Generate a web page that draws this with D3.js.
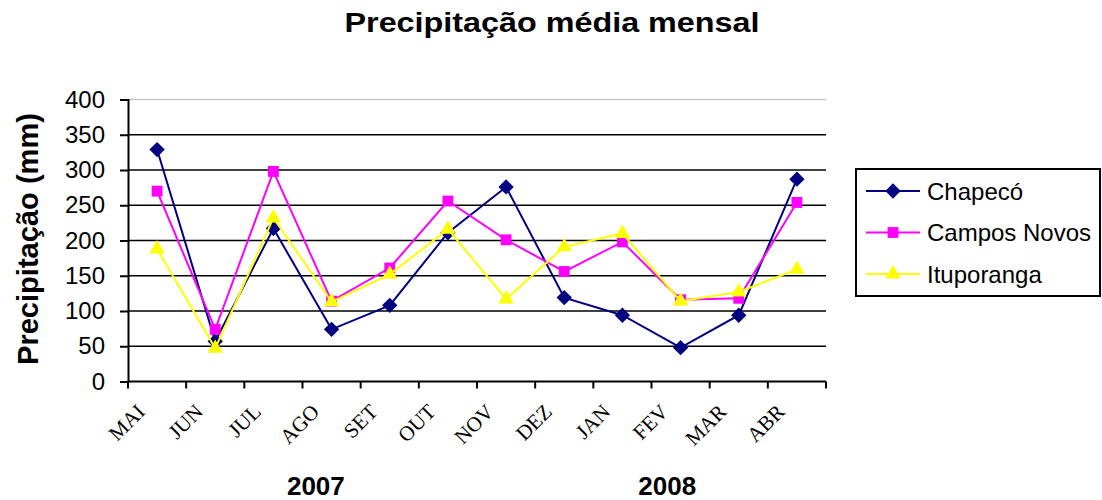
<!DOCTYPE html>
<html>
<head>
<meta charset="utf-8">
<title>Precipitação média mensal</title>
<style type="text/css">
    body{ margin:0; background:#fff; }
    svg text{ font-family:"Liberation Sans", Arial, sans-serif; fill:#000; }
    .xlab{ font-family:"Liberation Serif", "Times New Roman", serif; }
</style>
</head>
<body>
<div id="chart"></div>

<script src="https://cdn.jsdelivr.net/npm/d3@7/dist/d3.min.js"></script>
<script type="text/javascript">

    // months (May 2007 - Apr 2008)
    var months = ['MAI','JUN','JUL','AGO','SET','OUT','NOV','DEZ','JAN','FEV','MAR','ABR'];
    var years = ['2007', '2008'];
    var yTicks = [0, 50, 100, 150, 200, 250, 300, 350, 400];

    // monthly rainfall (mm)
    var chapeco     = [329, 57, 217, 74, 108, 211, 276, 119, 94, 48, 94, 287];
    var camposNovos = [270, 74, 298, 114, 161, 256, 201, 156, 198, 116, 118, 254];
    var ituporanga  = [188, 47, 232, 113, 152, 216, 117, 191, 210, 114, 127, 159];

    var seriesNames = ['Chapecó', 'Campos Novos', 'Ituporanga'];
    var seriesColors = ['#000080', '#FF00FF', '#FFFF00'];
    var seriesShapes = [d3.symbolDiamond2, d3.symbolSquare2, d3.symbolTriangle2];

    var series = [chapeco, camposNovos, ituporanga].map(function(v, i){
        return { name: seriesNames[i], color: seriesColors[i], shape: seriesShapes[i], values: v };
    });

    var width = 1102, height = 500;
    var plot = { left: 128, right: 826, top: 99.5, bottom: 381.5 };

    var svg = d3.select('#chart').append('svg')
        .attr('width', width)
        .attr('height', height);

/*-----------------------------------------------------------------------
    scales
-----------------------------------------------------------------------*/
    var x = d3.scaleBand().domain(months).range([plot.left, plot.right]).padding(0);
    var y = d3.scaleLinear().domain([0, 400]).range([plot.bottom, plot.top]);
    var cx = function(m){ return x(m) + x.bandwidth() / 2; };
    var markSize = function(shape){ return shape === d3.symbolTriangle2 ? 170 : 150; };

    // horizontal gridlines
    svg.append('g').selectAll('line')
        .data(yTicks.filter(function(t){ return t > 0; }))
        .enter().append('line')
        .attr('x1', plot.left).attr('x2', plot.right)
        .attr('y1', function(d){ return y(d); })
        .attr('y2', function(d){ return y(d); })
        .attr('stroke', function(d){ return d === 400 ? '#c8c8c8' : '#000'; })
        .attr('stroke-width', function(d){ return d === 400 ? 1.5 : 1.6; });

    // y axis
    var yAxis = svg.append('g')
        .attr('transform', 'translate(' + plot.left + ',0)')
        .call(d3.axisLeft(y).tickValues(yTicks).tickSize(8).tickPadding(15));
    yAxis.select('.domain').attr('stroke', '#000').attr('stroke-width', 2);
    yAxis.selectAll('.tick line').attr('stroke', '#000').attr('stroke-width', 2);
    yAxis.selectAll('.tick text')
        .style('font-family', '"Liberation Sans", Arial, sans-serif')
        .style('font-size', '24px')
        .attr('fill', '#000');

    // x axis: ticks at category boundaries
    var edges = months.map(function(m){ return x(m); }).concat([plot.right]);
    svg.append('line')
        .attr('x1', plot.left).attr('x2', plot.right)
        .attr('y1', plot.bottom).attr('y2', plot.bottom)
        .attr('stroke', '#000').attr('stroke-width', 2);
    svg.append('g').selectAll('line')
        .data(edges).enter().append('line')
        .attr('x1', function(d){ return d; }).attr('x2', function(d){ return d; })
        .attr('y1', plot.bottom).attr('y2', plot.bottom + 7)
        .attr('stroke', '#000').attr('stroke-width', 2);

    // month labels, slanted
    svg.append('g').selectAll('text')
        .data(months).enter().append('text')
        .attr('class', 'xlab')
        .attr('text-anchor', 'end')
        .style('font-size', '21px')
        .attr('transform', function(d){ return 'translate(' + (cx(d) - 11) + ',' + 413 + ') rotate(-45)'; })
        .text(function(d){ return d; });

    // year labels (under AGO/SET and FEV/MAR)
    var bw = x.bandwidth();
    svg.append('g').selectAll('text')
        .data(years).enter().append('text')
        .attr('x', function(d, i){ return i === 0 ? x('AGO') + 0.23 * bw : x('FEV') + 0.27 * bw; })
        .attr('y', 495)
        .attr('text-anchor', 'middle')
        .style('font-size', '26px')
        .style('font-weight', 'bold')
        .text(function(d){ return d; });

/*-----------------------------------------------------------------------
    series: line + markers
-----------------------------------------------------------------------*/
    var line = d3.line()
        .x(function(d, i){ return cx(months[i]); })
        .y(function(d){ return y(d); });

    var sg = svg.append('g').selectAll('g')
        .data(series).enter().append('g');

    sg.append('path')
        .attr('d', function(s){ return line(s.values); })
        .attr('fill', 'none')
        .attr('stroke', function(s){ return s.color; })
        .attr('stroke-width', 2);

    sg.each(function(s){
        d3.select(this).selectAll('path.mk')
            .data(s.values).enter().append('path')
            .attr('class', 'mk')
            .attr('d', d3.symbol().type(s.shape).size(markSize(s.shape)))
            .attr('transform', function(d, i){ return 'translate(' + cx(months[i]) + ',' + y(d) + ')'; })
            .attr('fill', s.color)
            .attr('stroke', 'none');
    });

/*-----------------------------------------------------------------------
    titles
-----------------------------------------------------------------------*/
    svg.append('text')
        .attr('x', 552).attr('y', 32)
        .attr('text-anchor', 'middle')
        .style('font-size', '27px')
        .style('font-weight', 'bold')
        .attr('textLength', 415).attr('lengthAdjust', 'spacingAndGlyphs')
        .text('Precipitação média mensal');

    svg.append('text')
        .attr('transform', 'translate(38,239) rotate(-90)')
        .attr('text-anchor', 'middle')
        .style('font-size', '29px')
        .style('font-weight', 'bold')
        .attr('textLength', 252).attr('lengthAdjust', 'spacingAndGlyphs')
        .text('Precipitação (mm)');

/*-----------------------------------------------------------------------
    legend
-----------------------------------------------------------------------*/
    var legend = svg.append('g');
    legend.append('rect')
        .attr('x', 856).attr('y', 169)
        .attr('width', 244).attr('height', 127)
        .attr('fill', '#fff')
        .attr('stroke', '#000').attr('stroke-width', 2);

    var li = legend.selectAll('g.item')
        .data(series).enter().append('g')
        .attr('class', 'item')
        .attr('transform', function(d, i){ return 'translate(0,' + (191 + i * 41.5) + ')'; });
    li.append('line')
        .attr('x1', 866).attr('x2', 920)
        .attr('stroke', function(d){ return d.color; })
        .attr('stroke-width', 2);
    li.append('path')
        .attr('d', function(d){ return d3.symbol().type(d.shape).size(markSize(d.shape))(); })
        .attr('transform', 'translate(893,0)')
        .attr('fill', function(d){ return d.color; });
    li.append('text')
        .attr('x', 927).attr('y', 8.5)
        .style('font-size', '24px')
        .text(function(d){ return d.name; });

</script>
</body>
</html>
